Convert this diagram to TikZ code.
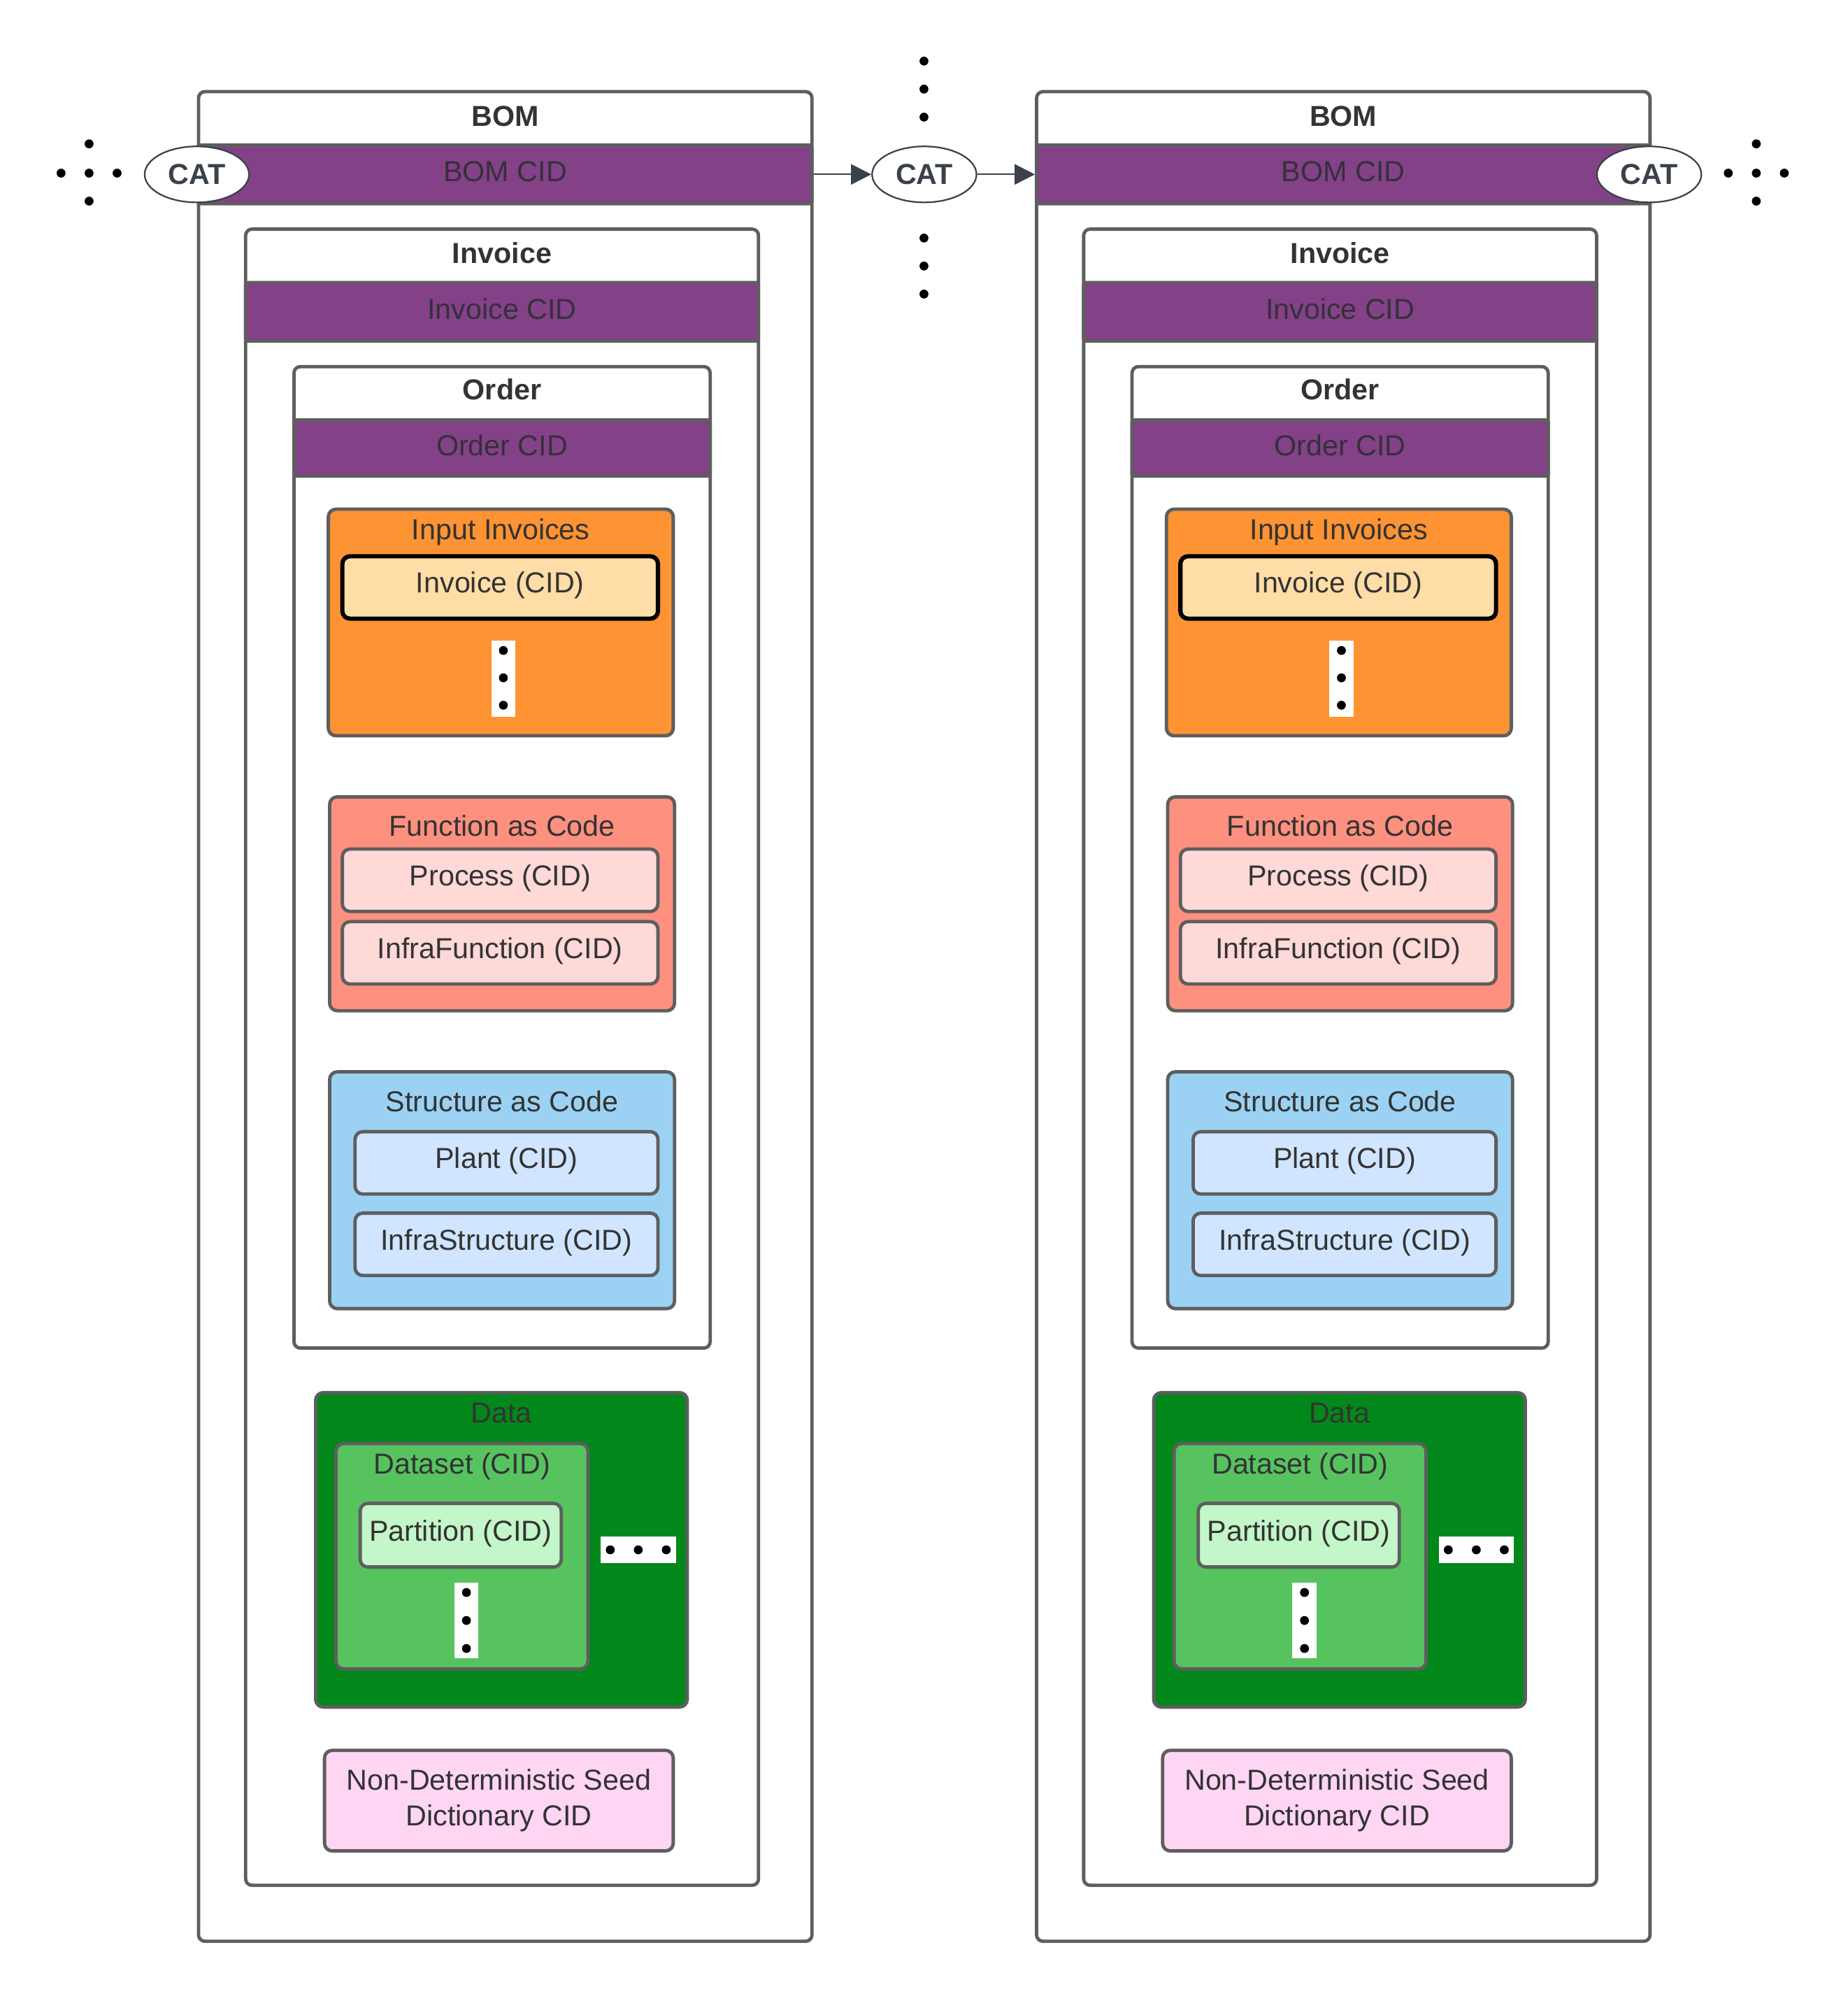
\documentclass[tikz,border=0pt]{standalone}
\usepackage{fontspec}
\setmainfont{Liberation Sans}
\usetikzlibrary{shapes.geometric,arrows.meta,calc,positioning}

\definecolor{linegray}{HTML}{5E5E5E}
\definecolor{textgray}{HTML}{333333}
\definecolor{catgray}{HTML}{3A414A}
\definecolor{bandpurple}{HTML}{834187}
\definecolor{bandtext}{HTML}{35303A}
\definecolor{inporange}{HTML}{FD9332}
\definecolor{invpeach}{HTML}{FFDDA6}
\definecolor{facsalmon}{HTML}{FE9080}
\definecolor{facpink}{HTML}{FFD8D8}
\definecolor{sacblue}{HTML}{9BD2F3}
\definecolor{saclight}{HTML}{D0E5FF}
\definecolor{datagreen}{HTML}{02881A}
\definecolor{setgreen}{HTML}{56C35F}
\definecolor{partgreen}{HTML}{C3F6C8}
\definecolor{seedpink}{HTML}{FFD5F4}

\newcommand{\boxfont}{\fontsize{12.9}{16}\selectfont}

\tikzset{
  frame/.style={draw=linegray, line width=1.5pt, rounded corners=0.1cm, fill=white, inner sep=0pt},
  band/.style={draw=linegray, line width=1.5pt, rounded corners=0.04cm, fill=bandpurple,
    text=bandtext, inner sep=0pt, text height=0.72em, text depth=0.02cm},
  title/.style={text=textgray, inner sep=0pt, text height=0.72em, text depth=0pt},
  boldtitle/.style={title, font=\boxfont\bfseries},
  group/.style={draw=linegray, line width=1.5pt, rounded corners=0.12cm, inner sep=0pt},
  item/.style={draw=linegray, line width=1.5pt, rounded corners=0.12cm, text=textgray,
    inner sep=0pt, text height=0.72em, text depth=0.08cm},
  cat/.style={ellipse, draw=catgray, line width=0.7pt, fill=white, text=catgray,
    font=\boxfont\bfseries, minimum width=1.64cm, minimum height=0.88cm, inner sep=0pt},
  dotbox/.style={fill=white, inner sep=0pt},
  link/.style={draw=catgray, line width=0.7pt, -{Triangle[length=0.32cm,width=0.32cm]}},
}

\begin{document}
\begin{tikzpicture}[font=\boxfont]
\useasboundingbox (0,0) rectangle (29.04,-31.36);

% the two BOM columns
\foreach \c/\s in {L/0, R/13.17} {
  \begin{scope}[xshift=\s cm]
  \node[frame, minimum width=9.64cm, minimum height=29.06cm] (bom\c) at (7.94,-15.97) {};
  \node[boldtitle] (bomt\c) at ([yshift=-0.44cm]bom\c.north) {BOM};
  \node[band, minimum width=9.64cm, minimum height=0.92cm] (band\c) at (7.94,-2.74) {BOM CID};

  \node[frame, minimum width=8.06cm, minimum height=26.02cm] (inv\c) at (7.89,-16.61) {};
  \node[boldtitle] (invt\c) at ([yshift=-0.44cm]inv\c.north) {Invoice};
  \node[band, minimum width=8.06cm, minimum height=0.92cm] (invb\c) at (7.89,-4.90) {Invoice CID};

  \node[frame, minimum width=6.54cm, minimum height=15.42cm] (ord\c) at (7.89,-13.47) {};
  \node[boldtitle] (ordt\c) at ([yshift=-0.42cm]ord\c.north) {Order};
  \node[band, minimum width=6.54cm, minimum height=0.88cm] (ordb\c) at (7.89,-7.04) {Order CID};

  % input invoices
  \node[group, fill=inporange, minimum width=5.42cm, minimum height=3.56cm] (inp\c) at (7.87,-9.78) {};
  \node[title] (inpt\c) at ([yshift=-0.38cm]inp\c.north) {Input Invoices};
  \node[item, draw=black, line width=1.9pt, fill=invpeach, minimum width=4.96cm, minimum height=0.98cm]
    (invcid\c) at (7.86,-9.23) {Invoice (CID)};
  \node[dotbox, minimum width=0.38cm, minimum height=1.20cm] (inpd\c) at (7.91,-10.66) {};
  \foreach \y in {-10.22,-10.65,-11.08}
    \fill (7.91,\y) circle (0.07);

  % function as code
  \node[group, fill=facsalmon, minimum width=5.42cm, minimum height=3.36cm] (fac\c) at (7.89,-14.20) {};
  \node[title] (fact\c) at ([yshift=-0.52cm]fac\c.north) {Function as Code};
  \node[item, fill=facpink, minimum width=4.96cm, minimum height=0.98cm] (proc\c) at (7.86,-13.83) {Process (CID)};
  \node[item, fill=facpink, minimum width=4.96cm, minimum height=0.98cm] (infraf\c) at (7.86,-14.97) {InfraFunction (CID)};

  % structure as code
  \node[group, fill=sacblue, minimum width=5.42cm, minimum height=3.72cm] (sac\c) at (7.89,-18.70) {};
  \node[title] (sact\c) at ([yshift=-0.52cm]sac\c.north) {Structure as Code};
  \node[item, fill=saclight, minimum width=4.76cm, minimum height=0.98cm] (plant\c) at (7.96,-18.27) {Plant (CID)};
  \node[item, fill=saclight, minimum width=4.76cm, minimum height=0.98cm] (infras\c) at (7.96,-19.55) {InfraStructure (CID)};

  % data
  \node[group, fill=datagreen, minimum width=5.84cm, minimum height=4.94cm] (data\c) at (7.88,-24.35) {};
  \node[title] (datat\c) at ([yshift=-0.38cm]data\c.north) {Data};
  \node[group, fill=setgreen, minimum width=3.96cm, minimum height=3.54cm] (set\c) at (7.26,-24.45) {};
  \node[title] (sett\c) at ([yshift=-0.38cm]set\c.north) {Dataset (CID)};
  \node[item, fill=partgreen, minimum width=3.16cm, minimum height=1.00cm] (part\c) at (7.24,-24.12) {Partition (CID)};
  \node[dotbox, minimum width=0.38cm, minimum height=1.18cm] (setd\c) at (7.33,-25.46) {};
  \foreach \y in {-25.02,-25.46,-25.90}
    \fill (7.33,\y) circle (0.07);
  \node[dotbox, minimum width=1.18cm, minimum height=0.42cm] (datad\c) at (10.03,-24.35) {};
  \foreach \x in {9.59,10.03,10.47}
    \fill (\x,-24.35) circle (0.07);

  % seed
  \node[group, fill=seedpink, text=textgray, align=center, minimum width=5.48cm, minimum height=1.58cm]
    (seed\c) at (7.84,-28.29) {Non-Deterministic Seed\\Dictionary CID};
  \end{scope}
}

% CAT links
\node[cat] (catL) at (bandL.west) {CAT};
\node[cat] (catR) at ([xshift=-0.04cm]bandR.east) {CAT};
\node[cat] (catM) at ($(bandL.east)!0.5!(bandR.west)$) {CAT};
\draw[link] (bandL.east) -- (catM);
\draw[link] (catM) -- (bandR.west);

% continuation dots
\foreach \x/\y in {0.96/-2.72, 1.40/-2.72, 1.84/-2.72, 1.40/-2.26, 1.40/-3.16,
                   27.16/-2.72, 27.60/-2.72, 28.04/-2.72, 27.60/-2.26, 27.60/-3.16,
                   14.52/-0.96, 14.52/-1.40, 14.52/-1.84, 14.52/-3.74, 14.52/-4.18, 14.52/-4.62}
  \fill (\x,\y) circle (0.07);
\end{tikzpicture}
\end{document}
